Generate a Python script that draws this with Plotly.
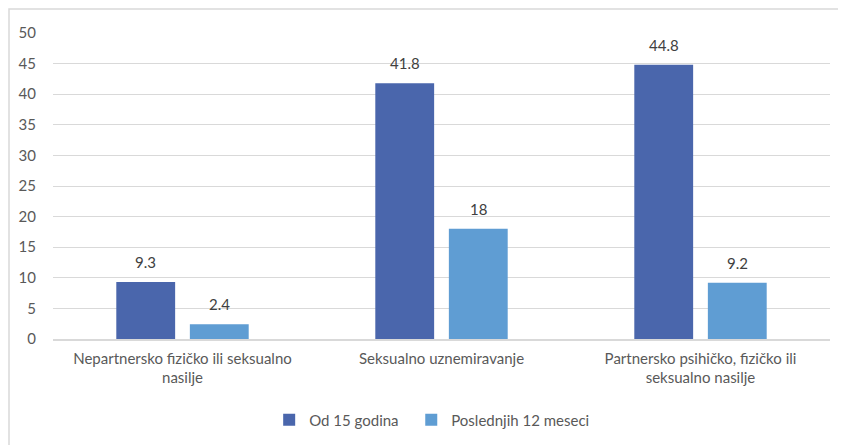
import plotly.graph_objects as go

categories = ["Nepartnersko fizičko ili seksualno<br>nasilje",
              "Seksualno uznemiravanje",
              "Partnersko psihičko, fizičko ili<br>seksualno nasilje"]
series_names = ["Od 15 godina", "Poslednjih 12 meseci"]
od15 = [9.3, 41.8, 44.8]
last12 = [2.4, 18, 9.2]
y_ticks = [0, 5, 10, 15, 20, 25, 30, 35, 40, 45, 50]

FONT = "Lato"
FS = 15
colors = ["#4A66AC", "#5F9DD3"]
series = [od15, last12]

W, H = 838, 437
L, R, T, B = 45, 16, 25, 106
plot_w = W - L - R
plot_h = H - T - B

fig = go.Figure()
for k, (name, vals, col) in enumerate(zip(series_names, series, colors)):
    pad = "\u00a0\u00a0" if k == 0 else ""
    fig.add_trace(go.Bar(x=categories, y=vals, name=name + pad,
                         marker=dict(color=col, line=dict(width=0))))

BARGAP = 0.432
slot = (1 - BARGAP) * plot_w / len(categories) / 2
annotations = []
for i, vals in enumerate(series):
    for c, v in zip(categories, vals):
        annotations.append(dict(x=c, y=v, xref="x", yref="y", text=f"{v:g}",
                                showarrow=False, yanchor="bottom",
                                xshift=(i - 0.5) * slot, yshift=9,
                                font=dict(color="#404040", size=FS, family=FONT)))

fig.update_layout(
    width=W, height=H,
    margin=dict(l=L, r=R, t=T, b=B, autoexpand=False),
    paper_bgcolor="white", plot_bgcolor="white",
    barmode="group", bargap=BARGAP, bargroupgap=0.2,
    font=dict(family=FONT, size=FS, color="#595959"),
    showlegend=True,
    legend=dict(orientation="h", x=0.488, xanchor="center", y=-0.265, yanchor="middle",
                font=dict(size=FS, color="#595959", family=FONT),
                itemwidth=30, traceorder="normal"),
    xaxis=dict(showline=True, linecolor="#D9D9D9", linewidth=1.5, ticks="",
               ticklabelstandoff=5,
               tickfont=dict(size=FS, color="#595959", family=FONT)),
    yaxis=dict(range=[0, 50], tickvals=y_ticks, showgrid=True, gridcolor="#D9D9D9",
               gridwidth=1.2, zeroline=False, showline=False, ticks="",
               ticklabelstandoff=16,
               tickfont=dict(size=FS, color="#595959", family=FONT)),
    annotations=annotations,
    shapes=[dict(type="rect", xref="paper", yref="paper",
                 x0=(1 - L) / plot_w, x1=1.5, y0=-1, y1=1 + (T - 1) / plot_h,
                 line=dict(color="#D9D9D9", width=1.5), fillcolor="rgba(0,0,0,0)",
                 layer="below")],
)
fig.write_html("out.html")
